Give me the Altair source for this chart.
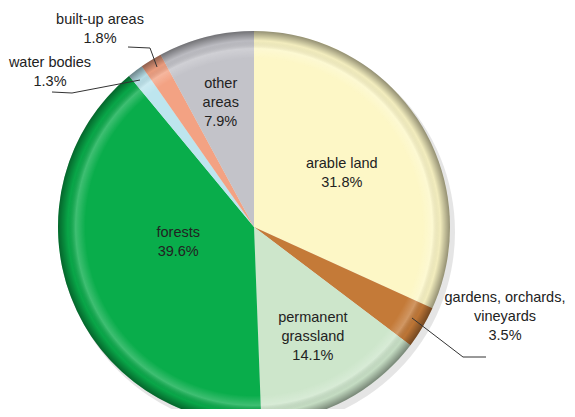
import altair as alt
import pandas as pd
import math

# ---- data ----
categories = ["arable land", "gardens, orchards, vineyards", "permanent grassland",
              "forests", "water bodies", "built-up areas", "other areas"]
shares = [31.8, 3.5, 14.1, 39.6, 1.3, 1.8, 7.9]
colors = ["#FDF7C6", "#C47A38", "#CDE6CB", "#09AD4B", "#BDE5EE", "#F3A283", "#C3C3C9"]
label_lines = [["arable land", "31.8%"], ["gardens, orchards,", "vineyards", "3.5%"],
               ["permanent", "grassland", "14.1%"], ["forests", "39.6%"],
               ["water bodies", "1.3%"], ["built-up areas", "1.8%"],
               ["other", "areas", "7.9%"]]

# ---- layout (pixels, chart coordinates) ----
CX, CY, R = 246, 219, 196
inside = ["arable land", "permanent grassland", "forests", "other areas"]
inside_radius = {"arable land": 108, "permanent grassland": 108, "forests": 76, "other areas": 147}
inside_angle_shift = {"arable land": -0.05, "permanent grassland": -0.096, "forests": 0.29, "other areas": 0.02}
outside_pos = {"built-up areas": (92, 12), "water bodies": (42, 55),
               "gardens, orchards, vineyards": (497, 290)}
leaders = {"built-up areas": [(120, 39), (142, 40), (149, 59)],
           "water bodies": [(44, 84), (64, 85), (132, 72)],
           "gardens, orchards, vineyards": [(404, 310), (455, 349), (478, 349)]}

df = pd.DataFrame({"cat": categories, "share": shares, "idx": list(range(len(categories)))})
df["inner"] = [ln if c in inside else [""] for c, ln in zip(categories, label_lines)]
df["lr"] = [inside_radius.get(c, 0) for c in categories]
df["shift"] = [inside_angle_shift.get(c, 0.0) for c in categories]

FONT = "Liberation Sans"
FS = 14.5
TWO_PI = 2 * math.pi
one = pd.DataFrame({"v": [1]})

shadow = alt.Chart(one).mark_arc(
    radius=R + 1, theta=0, theta2=TWO_PI, color="#000000", opacity=0.10
).encode(x=alt.value(CX + 4), y=alt.value(CY + 5))

pie = alt.Chart(df).mark_arc(radius=R, stroke=None).encode(
    theta=alt.Theta("share:Q", stack=True),
    order=alt.Order("idx:Q"),
    color=alt.Color("cat:N", scale=alt.Scale(domain=categories, range=colors), legend=None),
    x=alt.value(CX), y=alt.value(CY),
)

rim = alt.Chart(one).mark_arc(
    radius=R, theta=0, theta2=TWO_PI,
    fill=alt.Gradient(
        gradient="radial", x1=0.5, y1=0.5, x2=0.5, y2=0.5, r1=0, r2=0.5,
        stops=[
            alt.GradientStop(color="rgba(255,255,255,0)", offset=0),
            alt.GradientStop(color="rgba(255,255,255,0)", offset=0.86),
            alt.GradientStop(color="rgba(255,255,255,0.22)", offset=0.91),
            alt.GradientStop(color="rgba(0,0,0,0.04)", offset=0.95),
            alt.GradientStop(color="rgba(0,0,0,0.42)", offset=1),
        ],
    ),
).encode(x=alt.value(CX), y=alt.value(CY))

inner_text = alt.Chart(df).transform_joinaggregate(
    total="sum(share)"
).transform_window(
    cum="sum(share)", sort=[alt.SortField("idx")], frame=[None, 0]
).transform_calculate(
    mid="(datum.cum - datum.share / 2) / datum.total * 2 * PI + datum.shift"
).mark_text(font=FONT, fontSize=FS, color="#222222", lineHeight=19,
            baseline="middle", align="center").encode(
    theta=alt.Theta("mid:Q", scale=None),
    radius=alt.Radius("lr:Q", scale=None),
    text="inner",
    x=alt.value(CX), y=alt.value(CY),
)

out_df = pd.DataFrame({
    "cat": list(outside_pos.keys()),
    "px": [p[0] for p in outside_pos.values()],
    "py": [p[1] for p in outside_pos.values()],
})
out_df["lines"] = [label_lines[categories.index(c)] for c in out_df["cat"]]
outer_text = alt.Chart(out_df).mark_text(font=FONT, fontSize=FS, color="#222222",
                                         lineHeight=19, baseline="middle", align="center").encode(
    x=alt.X("px:Q", scale=None), y=alt.Y("py:Q", scale=None), text="lines")

rows = []
for c, pts in leaders.items():
    for i, (px, py) in enumerate(pts):
        rows.append({"cat": c, "i": i, "px": px, "py": py})
lead = alt.Chart(pd.DataFrame(rows)).mark_line(color="#333333", strokeWidth=1).encode(
    x=alt.X("px:Q", scale=None), y=alt.Y("py:Q", scale=None),
    detail="cat:N", order="i:Q")

chart = alt.layer(shadow, pie, rim, inner_text, outer_text, lead).properties(
    width=559, height=401, padding=0, autosize="none"
).configure_view(stroke=None)

chart.save("out.html", embed_options={"renderer": "svg", "actions": False})
